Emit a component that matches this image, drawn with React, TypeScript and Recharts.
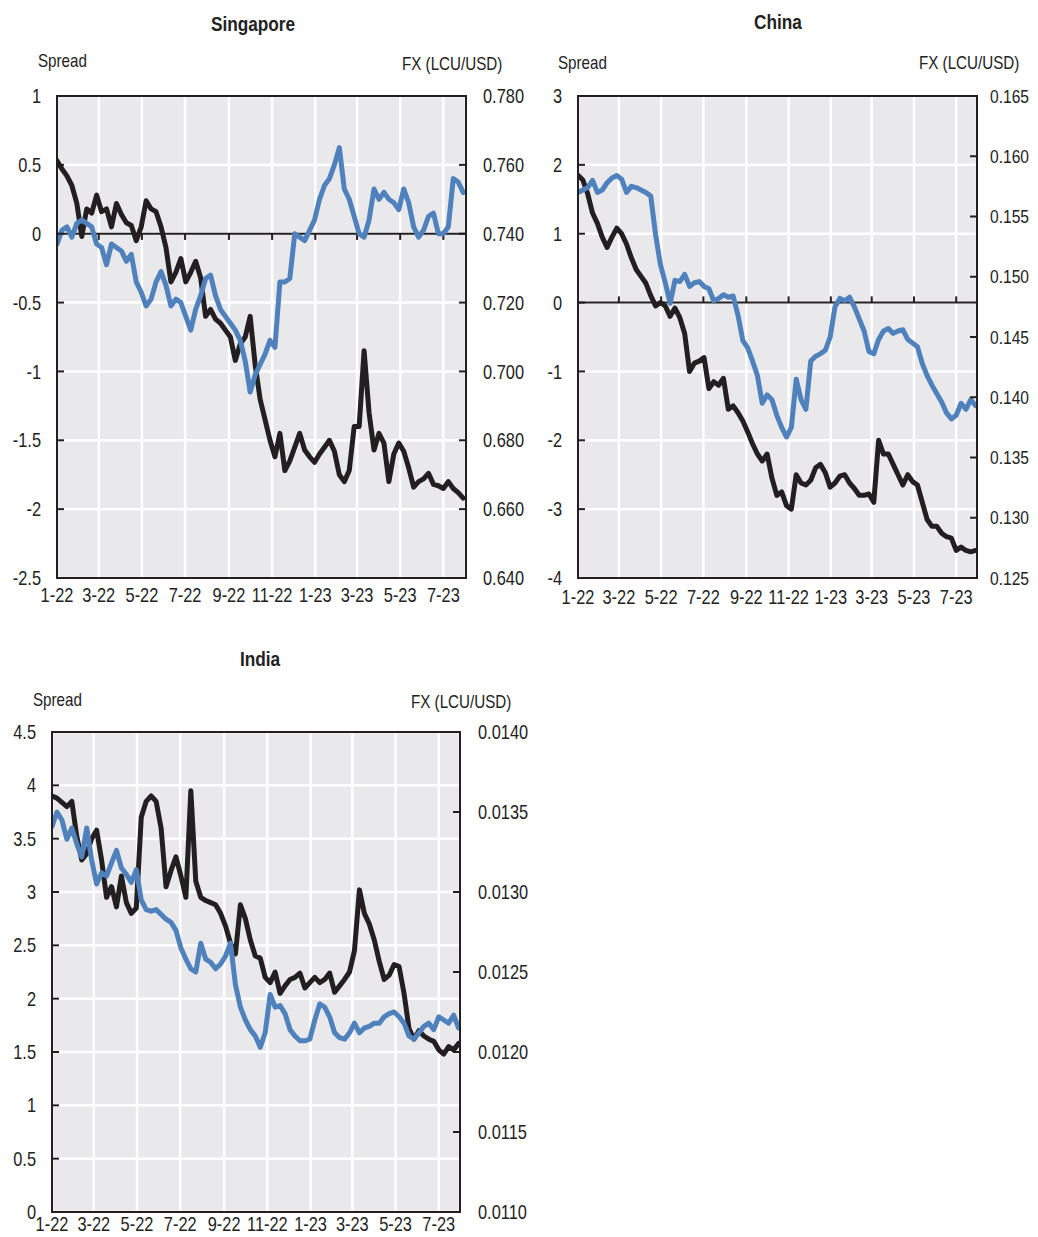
import { LineChart, Line, XAxis, YAxis, CartesianGrid, ReferenceLine } from 'recharts'

const FONT = "'Liberation Sans', Arial, sans-serif"
const SQUEEZE = 0.82
const BLACK = '#231f20'
const BLUE = '#4f81bd'
const PAD_L = 70
const PAD_T = 10

// x axis: days since 1 Jan 2022, weekly observations
const monthDays = [0, 59, 120, 181, 243, 304, 365, 424, 485, 546]
const monthLabels = ['1-22', '3-22', '5-22', '7-22', '9-22', '11-22', '1-23', '3-23', '5-23', '7-23']

// Singapore
const sgSpread = [
  0.53, 0.47, 0.42, 0.35, 0.22, -0.02, 0.18, 0.15, 0.28, 0.16,
  0.18, 0.05, 0.22, 0.14, 0.08, 0.06, -0.05, 0.05, 0.24, 0.18,
  0.16, 0.05, -0.1, -0.35, -0.28, -0.18, -0.35, -0.28, -0.2, -0.32,
  -0.6, -0.55, -0.62, -0.65, -0.7, -0.75, -0.92, -0.8, -0.75, -0.6,
  -0.95, -1.2, -1.35, -1.5, -1.62, -1.45, -1.72, -1.65, -1.55, -1.45,
  -1.57, -1.62, -1.66, -1.6, -1.55, -1.5, -1.58, -1.75, -1.8, -1.72,
  -1.4, -1.4, -0.85, -1.3, -1.57, -1.45, -1.52, -1.8, -1.6, -1.52,
  -1.58, -1.7, -1.84, -1.8, -1.78, -1.74, -1.82, -1.83, -1.85, -1.8,
  -1.85, -1.88, -1.92,
]
const sgFx = [
  0.737, 0.741, 0.742, 0.739, 0.743, 0.744, 0.743, 0.742, 0.737, 0.736,
  0.731, 0.737, 0.736, 0.735, 0.732, 0.734, 0.726, 0.723, 0.719, 0.721,
  0.726, 0.729, 0.725, 0.719, 0.721, 0.72, 0.716, 0.712, 0.718, 0.722,
  0.727, 0.728, 0.722, 0.718, 0.716, 0.714, 0.712, 0.709, 0.703, 0.694,
  0.699, 0.702, 0.705, 0.709, 0.707, 0.726, 0.726, 0.727, 0.74, 0.739,
  0.738, 0.741, 0.744, 0.75, 0.754, 0.756, 0.76, 0.765, 0.753, 0.75,
  0.745, 0.74, 0.739, 0.744, 0.753, 0.75, 0.752, 0.75, 0.749, 0.747,
  0.753, 0.749, 0.742, 0.739, 0.741, 0.745, 0.746, 0.74, 0.74, 0.742,
  0.756, 0.755, 0.752,
]

// China
const cnSpread = [
  1.85, 1.78, 1.58, 1.3, 1.15, 0.95, 0.8, 0.95, 1.08, 1.0,
  0.85, 0.65, 0.48, 0.38, 0.28, 0.1, -0.05, 0.0, -0.05, -0.2,
  -0.08, -0.22, -0.45, -1.0, -0.88, -0.85, -0.8, -1.25, -1.15, -1.2,
  -1.1, -1.55, -1.5, -1.6, -1.72, -1.88, -2.05, -2.2, -2.3, -2.2,
  -2.55, -2.8, -2.75, -2.95, -3.0, -2.5, -2.62, -2.65, -2.58, -2.4,
  -2.35, -2.47, -2.68, -2.62, -2.52, -2.5, -2.62, -2.7, -2.8, -2.8,
  -2.78, -2.9, -2.0, -2.2, -2.2, -2.35, -2.5, -2.65, -2.5, -2.6,
  -2.65, -2.9, -3.15, -3.25, -3.25, -3.35, -3.4, -3.42, -3.6, -3.55,
  -3.6, -3.62, -3.6,
]
const cnFx = [
  0.157, 0.1572, 0.1574, 0.158, 0.157, 0.1572, 0.1578, 0.1582, 0.1584, 0.1581,
  0.157, 0.1575, 0.1574, 0.1572, 0.157, 0.1567, 0.1535, 0.151, 0.1495, 0.1478,
  0.1497, 0.1496, 0.1502, 0.1492, 0.1495, 0.1496, 0.1492, 0.149, 0.148, 0.1482,
  0.1485, 0.1483, 0.1484, 0.1468, 0.1447, 0.1441, 0.143, 0.1418, 0.1395, 0.1402,
  0.1398, 0.1385, 0.1375, 0.1367, 0.1375, 0.1415, 0.1398, 0.139, 0.143, 0.1434,
  0.1436, 0.1439, 0.145, 0.1475, 0.1482, 0.148, 0.1483, 0.1475, 0.1465, 0.1455,
  0.1438, 0.1436, 0.1448, 0.1455, 0.1457, 0.1453, 0.1455, 0.1456, 0.1448, 0.1445,
  0.1442, 0.1428, 0.1418, 0.141, 0.1403, 0.1396, 0.1387, 0.1382, 0.1385, 0.1395,
  0.139, 0.1398, 0.1393,
]

// India
const inSpread = [
  3.9, 3.88, 3.84, 3.8, 3.85, 3.52, 3.3, 3.36, 3.5, 3.58,
  3.3, 2.95, 3.05, 2.86, 3.15, 2.9, 2.8, 2.85, 3.7, 3.85,
  3.9, 3.85, 3.6, 3.05, 3.2, 3.33, 3.15, 2.95, 3.95, 3.1,
  2.95, 2.92, 2.9, 2.88, 2.8, 2.68, 2.52, 2.42, 2.88, 2.75,
  2.55, 2.4, 2.38, 2.2, 2.15, 2.25, 2.05, 2.12, 2.18, 2.2,
  2.24, 2.1, 2.15, 2.2, 2.15, 2.18, 2.24, 2.06, 2.12, 2.18,
  2.25, 2.45, 3.02, 2.8, 2.7, 2.55, 2.35, 2.18, 2.22, 2.32,
  2.3, 2.05, 1.72, 1.62, 1.7, 1.65, 1.62, 1.6, 1.52, 1.48,
  1.55, 1.52, 1.58,
]
const inFx = [
  0.01341, 0.0135, 0.01345, 0.01333, 0.0134, 0.0133, 0.01322, 0.0134, 0.0132, 0.01305,
  0.01312, 0.0131, 0.01318, 0.01326, 0.01315, 0.01311, 0.01306, 0.01314, 0.01295, 0.01289,
  0.01288, 0.01289, 0.01286, 0.01283, 0.01281, 0.01276, 0.01265, 0.01258, 0.01252, 0.0125,
  0.01268, 0.01258, 0.01256, 0.01252, 0.01255, 0.0126, 0.01268, 0.01242, 0.01228, 0.0122,
  0.01214, 0.0121, 0.01203, 0.01212, 0.01236, 0.01228, 0.01229, 0.01224, 0.01214, 0.0121,
  0.01207, 0.01207, 0.01208, 0.0122, 0.0123, 0.01228, 0.01222, 0.01212, 0.01209, 0.01208,
  0.01212, 0.01218, 0.01212, 0.01215, 0.01216, 0.01218, 0.01218, 0.01222, 0.01224, 0.01225,
  0.01222, 0.01218, 0.0121, 0.01208, 0.01212, 0.01216, 0.01218, 0.01214, 0.01222, 0.0122,
  0.01218, 0.01223, 0.01215,
]

const sgLeftTicks = [-2.5, -2, -1.5, -1, -0.5, 0, 0.5, 1]
const sgRightTicks = [0.64, 0.66, 0.68, 0.7, 0.72, 0.74, 0.76, 0.78]
const cnLeftTicks = [-4, -3, -2, -1, 0, 1, 2, 3]
const cnRightTicks = [0.125, 0.13, 0.135, 0.14, 0.145, 0.15, 0.155, 0.16, 0.165]
const inLeftTicks = [0, 0.5, 1, 1.5, 2, 2.5, 3, 3.5, 4, 4.5]
const inRightTicks = [0.011, 0.0115, 0.012, 0.0125, 0.013, 0.0135, 0.014]

type Box = { x: number; y: number; w: number; h: number }

interface PanelProps {
  title: string
  titleAt: [number, number]
  spreadAt: [number, number]
  fxAt: [number, number]
  box: Box
  padR: number
  padB: number
  rightGap: number
  rightSize: number
  xMax: number
  xLabelDy: number
  spread: number[]
  fx: number[]
  leftDomain: [number, number]
  leftTicks: number[]
  rightDomain: [number, number]
  rightTicks: number[]
  rightDigits: number
  zeroTick?: number // length of the small ticks on the zero line, in spread units (sign = direction)
}

// narrow text: Liberation Sans squeezed horizontally, like Arial Narrow
function NarrowText({ x, y, anchor, size, children }: { x: number; y: number; anchor: 'start' | 'middle' | 'end'; size: number; children: any }) {
  return (
    <text
      transform={`translate(${x},${y}) scale(${SQUEEZE},1)`}
      textAnchor={anchor}
      dominantBaseline="central"
      fontSize={size}
      fill="#222"
      fontFamily={FONT}
    >
      {children}
    </text>
  )
}

function Panel(p: PanelProps) {
  const data = p.spread.map((s, i) => ({ day: i * 7, spread: s, fx: p.fx[i] }))
  const plotL = PAD_L
  const plotR = PAD_L + p.box.w
  const plotB = PAD_T + p.box.h
  const chartW = p.box.w + PAD_L + p.padR
  const chartH = p.box.h + PAD_T + p.padB

  const leftTick = (props: any) => (
    <g>
      <line x1={plotL} x2={plotL + 7} y1={props.y} y2={props.y} stroke={BLACK} strokeWidth={2} />
      <NarrowText x={plotL - 16} y={props.y} anchor="end" size={20}>
        {String(props.payload.value)}
      </NarrowText>
    </g>
  )
  const rightTick = (props: any) => (
    <g>
      <line x1={plotR - 7} x2={plotR} y1={props.y} y2={props.y} stroke={BLACK} strokeWidth={2} />
      <NarrowText x={plotR + p.rightGap} y={props.y} anchor="start" size={p.rightSize}>
        {Number(props.payload.value).toFixed(p.rightDigits)}
      </NarrowText>
    </g>
  )
  const xTick = (props: any) => (
    <NarrowText x={props.x} y={plotB + p.xLabelDy} anchor="middle" size={20}>
      {monthLabels[monthDays.indexOf(props.payload.value)]}
    </NarrowText>
  )

  const textStyle = {
    position: 'absolute' as const,
    fontFamily: FONT,
    color: '#222',
    whiteSpace: 'nowrap' as const,
    lineHeight: '22px',
    height: 22,
  }

  return (
    <>
      <div
        style={{
          ...textStyle,
          left: p.titleAt[0] - 8 - 100,
          width: 200,
          top: p.titleAt[1] - 8 - 11,
          textAlign: 'center',
          fontWeight: 'bold',
          fontSize: 21,
          transform: `scaleX(${SQUEEZE})`,
          transformOrigin: 'center center',
        }}
      >
        {p.title}
      </div>
      <div style={{ ...textStyle, left: p.spreadAt[0] - 8, top: p.spreadAt[1] - 8 - 11, fontSize: 18.5, transform: `scaleX(${SQUEEZE})`, transformOrigin: 'left center' }}>
        Spread
      </div>
      <div style={{ ...textStyle, left: p.fxAt[0] - 8, top: p.fxAt[1] - 8 - 11, fontSize: 18.5, transform: `scaleX(${SQUEEZE})`, transformOrigin: 'left center' }}>
        FX (LCU/USD)
      </div>
      <div style={{ position: 'absolute', left: p.box.x - 8 - PAD_L, top: p.box.y - 8 - PAD_T, width: chartW, height: chartH }}>
        <LineChart width={chartW} height={chartH} data={data} margin={{ top: PAD_T, right: 0, bottom: 0, left: 0 }} style={{ overflow: 'visible' }}>
          <CartesianGrid yAxisId="left" fill="#e9e9ec" fillOpacity={1} stroke="#ffffff" strokeWidth={2.5} />
          <XAxis
            dataKey="day"
            type="number"
            domain={[0, p.xMax]}
            ticks={monthDays}
            interval={0}
            height={p.padB}
            axisLine={false}
            tickLine={false}
            tick={xTick}
            allowDataOverflow
          />
          <YAxis
            yAxisId="left"
            orientation="left"
            type="number"
            domain={p.leftDomain}
            ticks={p.leftTicks}
            interval={0}
            width={PAD_L}
            axisLine={false}
            tickLine={false}
            tick={leftTick}
            allowDataOverflow
          />
          <YAxis
            yAxisId="right"
            orientation="right"
            type="number"
            domain={p.rightDomain}
            ticks={p.rightTicks}
            interval={0}
            width={p.padR}
            axisLine={false}
            tickLine={false}
            tick={rightTick}
            allowDataOverflow
          />
          {p.zeroTick !== undefined && <ReferenceLine yAxisId="left" y={0} stroke={BLACK} strokeWidth={2} />}
          {p.zeroTick !== undefined &&
            monthDays.slice(1).map((d) => (
              <ReferenceLine
                key={d}
                yAxisId="left"
                segment={[
                  { x: d, y: 0 },
                  { x: d, y: p.zeroTick as number },
                ]}
                stroke={BLACK}
                strokeWidth={2}
              />
            ))}
          <Line
            yAxisId="left"
            type="linear"
            dataKey="spread"
            stroke={BLACK}
            strokeWidth={5}
            strokeLinejoin="round"
            strokeLinecap="round"
            dot={false}
            isAnimationActive={false}
          />
          <Line
            yAxisId="right"
            type="linear"
            dataKey="fx"
            stroke={BLUE}
            strokeWidth={5}
            strokeLinejoin="round"
            strokeLinecap="round"
            dot={false}
            isAnimationActive={false}
          />
        </LineChart>
      </div>
      <div
        style={{
          position: 'absolute',
          left: p.box.x - 8 - 1,
          top: p.box.y - 8 - 1,
          width: p.box.w + 2,
          height: p.box.h + 2,
          border: `2px solid ${BLACK}`,
          boxSizing: 'border-box',
          pointerEvents: 'none',
        }}
      />
    </>
  )
}

export default function App() {
  return (
    <div style={{ position: 'relative', width: 1022, height: 1229, fontFamily: FONT }}>
      <Panel
        title="Singapore"
        titleAt={[253, 24]}
        spreadAt={[38, 61]}
        fxAt={[402, 64]}
        box={{ x: 57, y: 96, w: 409, h: 482 }}
        padR={80}
        padB={36}
        rightGap={17}
        rightSize={20}
        xMax={578}
        xLabelDy={17}
        spread={sgSpread}
        fx={sgFx}
        leftDomain={[-2.5, 1]}
        leftTicks={sgLeftTicks}
        rightDomain={[0.64, 0.78]}
        rightTicks={sgRightTicks}
        rightDigits={3}
        zeroTick={-0.045}
      />
      <Panel
        title="China"
        titleAt={[778, 22]}
        spreadAt={[558, 63]}
        fxAt={[919, 63]}
        box={{ x: 578, y: 96, w: 399, h: 482 }}
        padR={53}
        padB={36}
        rightGap={13}
        rightSize={19}
        xMax={576}
        xLabelDy={19}
        spread={cnSpread}
        fx={cnFx}
        leftDomain={[-4, 3]}
        leftTicks={cnLeftTicks}
        rightDomain={[0.125, 0.165]}
        rightTicks={cnRightTicks}
        rightDigits={3}
        zeroTick={0.09}
      />
      <Panel
        title="India"
        titleAt={[260, 659]}
        spreadAt={[33, 700]}
        fxAt={[411, 702]}
        box={{ x: 52, y: 732, w: 408, h: 480 }}
        padR={80}
        padB={24}
        rightGap={18}
        rightSize={20}
        xMax={576}
        xLabelDy={12}
        spread={inSpread}
        fx={inFx}
        leftDomain={[0, 4.5]}
        leftTicks={inLeftTicks}
        rightDomain={[0.011, 0.014]}
        rightTicks={inRightTicks}
        rightDigits={4}
      />
    </div>
  )
}
